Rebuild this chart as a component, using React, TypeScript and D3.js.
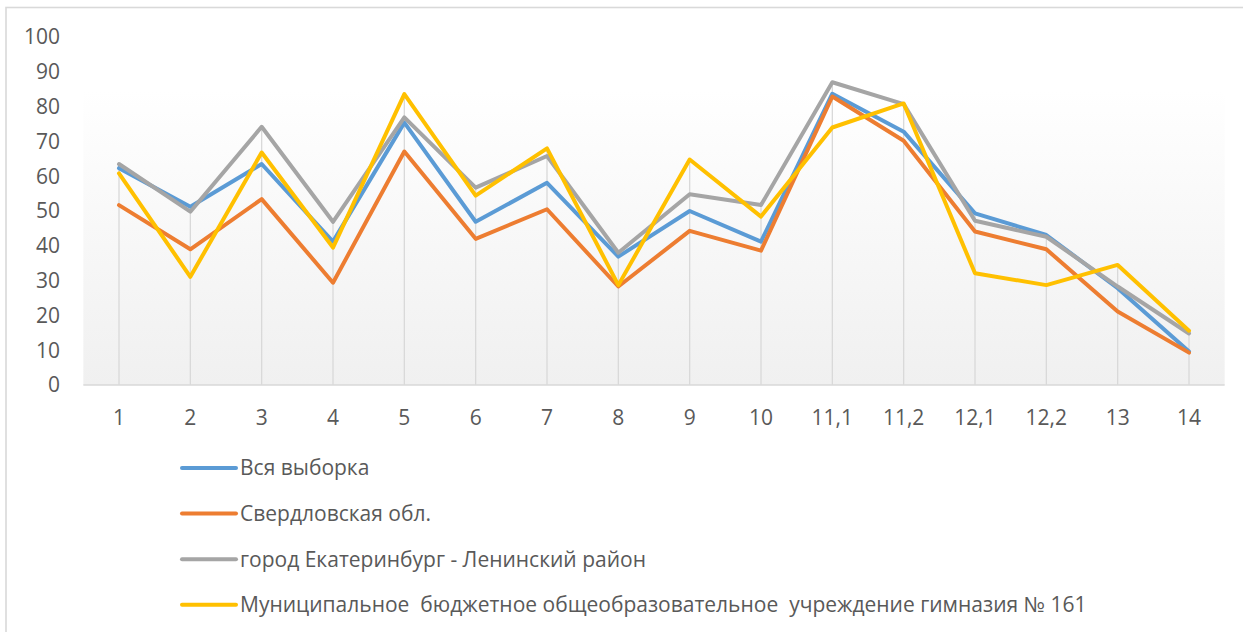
import React from "react";
import * as d3 from "d3";

const categories = ["1", "2", "3", "4", "5", "6", "7", "8", "9", "10", "11,1", "11,2", "12,1", "12,2", "13", "14"];
const seriesNames = [
  "Вся выборка",
  "Свердловская обл.",
  "город Екатеринбург - Ленинский район",
  "Муниципальное  бюджетное общеобразовательное  учреждение гимназия № 161",
];
const allSample = [62.3, 51.2, 63.5, 41.2, 75.4, 46.9, 58.1, 36.9, 50.0, 41.2, 83.7, 72.8, 49.3, 43.1, 27.8, 9.6];
const sverdlovsk = [51.7, 39.0, 53.4, 29.4, 67.1, 42.0, 50.5, 28.3, 44.3, 38.6, 82.9, 70.2, 44.1, 39.0, 21.1, 9.3];
const leninsky = [63.5, 49.8, 74.2, 46.9, 76.9, 56.7, 65.8, 38.0, 54.8, 51.7, 87.0, 80.7, 47.2, 42.6, 28.3, 14.8];
const gymnasium = [60.8, 31.1, 66.8, 39.5, 83.6, 54.4, 68.0, 28.7, 64.8, 48.4, 74.0, 80.9, 32.1, 28.7, 34.5, 15.6];
const yTicks = [0, 10, 20, 30, 40, 50, 60, 70, 80, 90, 100];
const colors = ["#5b9bd5", "#ed7d31", "#a5a5a5", "#ffc000"];

const series = [allSample, sverdlovsk, leninsky, gymnasium];

export default function App() {
  const W = 1243;
  const H = 632;
  const x = d3.scalePoint<string>().domain(categories).range([119, 1189]);
  const step = x.step();
  const y = d3.scaleLinear().domain([0, 100]).range([385, 37]);
  const line = d3
    .line<number>()
    .x((_, i) => x(categories[i]) as number)
    .y((d) => y(d));
  const font = "'Open Sans', sans-serif";
  const textColor = "#595959";
  const plotLeft = (x(categories[0]) as number) - step / 2;
  const plotRight = (x(categories[categories.length - 1]) as number) + step / 2;

  return (
    <svg width={W} height={H} style={{ position: "absolute", left: 0, top: 0, background: "#fff" }}>
      <defs>
        <linearGradient id="plotBg" x1="0" y1="0" x2="0" y2="1">
          <stop offset="0%" stopColor="#ffffff" />
          <stop offset="15%" stopColor="#ffffff" />
          <stop offset="100%" stopColor="#f0f0f0" />
        </linearGradient>
      </defs>
      <rect x={6} y={7.5} width={1400} height={800} fill="#fff" stroke="#d9d9d9" strokeWidth={1.6} />
      <rect x={plotLeft} y={y(100)} width={plotRight - plotLeft} height={y(0) - y(100)} fill="url(#plotBg)" />
      {categories.map((c, i) => {
        const top = d3.max(series, (s) => s[i]) as number;
        return (
          <line key={c} x1={x(c)} x2={x(c)} y1={y(top)} y2={y(0)} stroke="#d9d9d9" strokeWidth={1.3} />
        );
      })}
      <line x1={plotLeft} x2={plotRight} y1={y(0)} y2={y(0)} stroke="#d9d9d9" strokeWidth={1.5} />
      {yTicks.map((t) => (
        <text key={t} x={60} y={y(t)} dy="0.35em" textAnchor="end" fontFamily={font} fontSize={21} fill={textColor}>
          {t}
        </text>
      ))}
      {categories.map((c) => (
        <text key={c} x={x(c)} y={418} dy="0.35em" textAnchor="middle" fontFamily={font} fontSize={21} fill={textColor}>
          {c}
        </text>
      ))}
      {series.map((s, i) => (
        <path key={i} d={line(s) || ""} fill="none" stroke={colors[i]} strokeWidth={4} strokeLinejoin="round" strokeLinecap="round" />
      ))}
      {seriesNames.map((n, i) => {
        const ly = 468 + i * 45.6;
        return (
          <g key={n}>
            <line x1={182} x2={236} y1={ly} y2={ly} stroke={colors[i]} strokeWidth={4} strokeLinecap="round" />
            <text x={240} y={ly} dy="0.35em" fontFamily={font} fontSize={21} fill={textColor} style={{ whiteSpace: "pre" }}>
              {n}
            </text>
          </g>
        );
      })}
    </svg>
  );
}
